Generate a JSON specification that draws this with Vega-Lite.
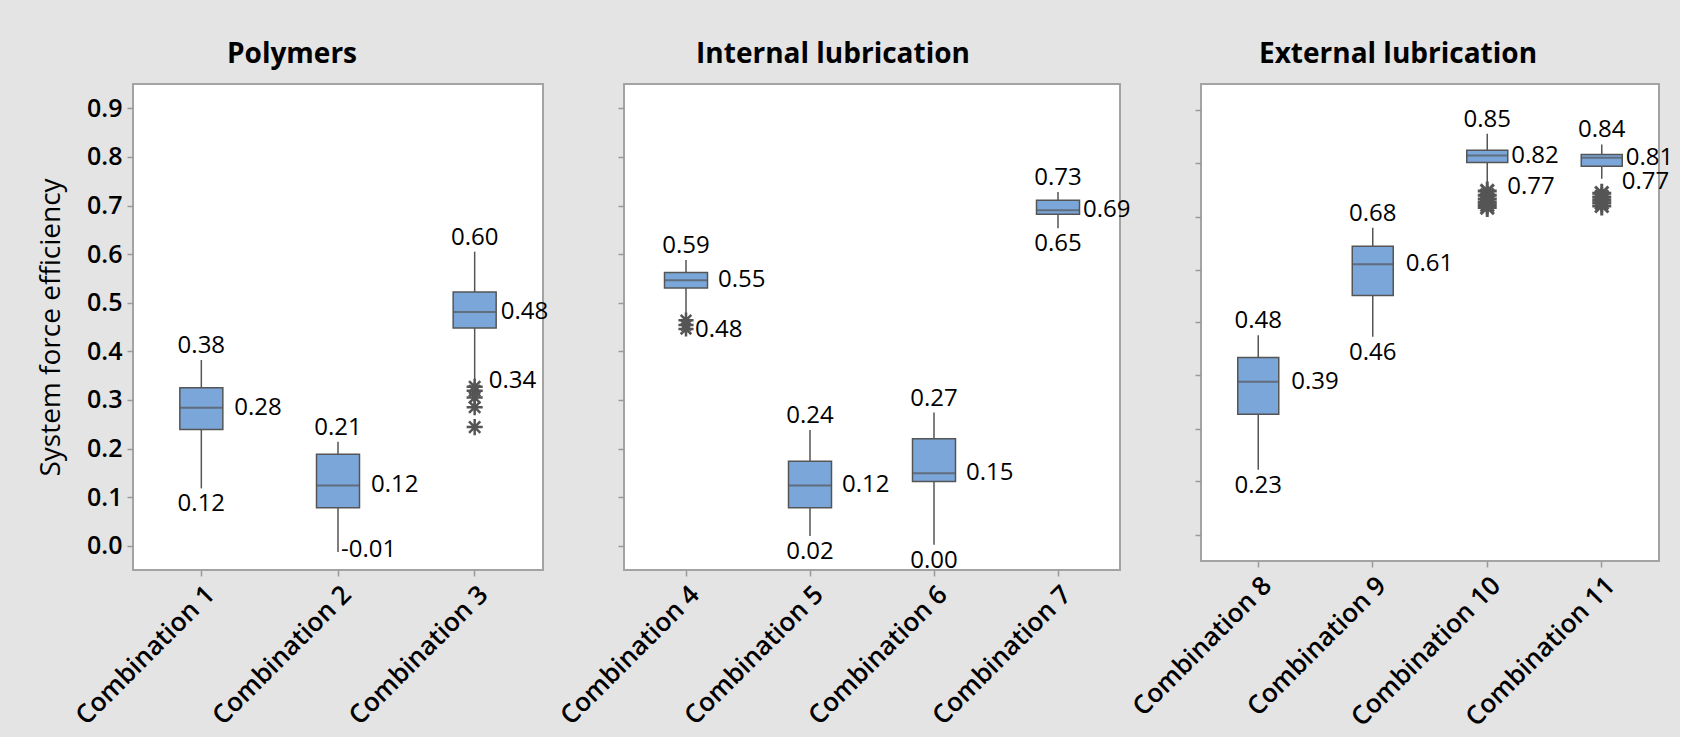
{
  "$schema": "https://vega.github.io/schema/vega-lite/v6.json",
  "background": "#e4e4e4",
  "padding": {"left": 36, "top": 39, "right": 5, "bottom": 5},
  "spacing": 81,
  "bounds": "flush",
  "datasets": {
    "boxes": [
      {"group": "Polymers", "combo": "Combination 1", "lo": 0.118, "q1": 0.239, "med": 0.284, "q3": 0.325, "hi": 0.382, "loL": "0.12", "medL": "0.28", "hiL": "0.38"},
      {"group": "Polymers", "combo": "Combination 2", "lo": -0.013, "q1": 0.078, "med": 0.124, "q3": 0.188, "hi": 0.214, "loL": "-0.01", "medL": "0.12", "hiL": "0.21"},
      {"group": "Polymers", "combo": "Combination 3", "lo": 0.339, "q1": 0.448, "med": 0.481, "q3": 0.522, "hi": 0.605, "loL": "0.34", "medL": "0.48", "hiL": "0.60"},
      {"group": "Internal lubrication", "combo": "Combination 4", "lo": 0.476, "q1": 0.53, "med": 0.546, "q3": 0.562, "hi": 0.588, "loL": "0.48", "medL": "0.55", "hiL": "0.59"},
      {"group": "Internal lubrication", "combo": "Combination 5", "lo": 0.02, "q1": 0.078, "med": 0.124, "q3": 0.174, "hi": 0.238, "loL": "0.02", "medL": "0.12", "hiL": "0.24"},
      {"group": "Internal lubrication", "combo": "Combination 6", "lo": 0.002, "q1": 0.132, "med": 0.149, "q3": 0.22, "hi": 0.274, "loL": "0.00", "medL": "0.15", "hiL": "0.27"},
      {"group": "Internal lubrication", "combo": "Combination 7", "lo": 0.653, "q1": 0.682, "med": 0.69, "q3": 0.711, "hi": 0.728, "loL": "0.65", "medL": "0.69", "hiL": "0.73"},
      {"group": "External lubrication", "combo": "Combination 8", "lo": 0.222, "q1": 0.327, "med": 0.388, "q3": 0.434, "hi": 0.476, "loL": "0.23", "medL": "0.39", "hiL": "0.48"},
      {"group": "External lubrication", "combo": "Combination 9", "lo": 0.473, "q1": 0.551, "med": 0.61, "q3": 0.644, "hi": 0.679, "loL": "0.46", "medL": "0.61", "hiL": "0.68"},
      {"group": "External lubrication", "combo": "Combination 10", "lo": 0.762, "q1": 0.802, "med": 0.815, "q3": 0.825, "hi": 0.856, "loL": "0.77", "medL": "0.82", "hiL": "0.85"},
      {"group": "External lubrication", "combo": "Combination 11", "lo": 0.771, "q1": 0.795, "med": 0.811, "q3": 0.817, "hi": 0.836, "loL": "0.77", "medL": "0.81", "hiL": "0.84"}
    ],
    "outliers": [
      {"group": "Polymers", "combo": "Combination 3", "value": 0.327},
      {"group": "Polymers", "combo": "Combination 3", "value": 0.319},
      {"group": "Polymers", "combo": "Combination 3", "value": 0.305},
      {"group": "Polymers", "combo": "Combination 3", "value": 0.285},
      {"group": "Polymers", "combo": "Combination 3", "value": 0.244},
      {"group": "Internal lubrication", "combo": "Combination 4", "value": 0.464},
      {"group": "Internal lubrication", "combo": "Combination 4", "value": 0.454},
      {"group": "Internal lubrication", "combo": "Combination 4", "value": 0.446},
      {"group": "External lubrication", "combo": "Combination 10", "value": 0.748},
      {"group": "External lubrication", "combo": "Combination 10", "value": 0.74},
      {"group": "External lubrication", "combo": "Combination 10", "value": 0.733},
      {"group": "External lubrication", "combo": "Combination 10", "value": 0.727},
      {"group": "External lubrication", "combo": "Combination 10", "value": 0.722},
      {"group": "External lubrication", "combo": "Combination 10", "value": 0.717},
      {"group": "External lubrication", "combo": "Combination 11", "value": 0.744},
      {"group": "External lubrication", "combo": "Combination 11", "value": 0.737},
      {"group": "External lubrication", "combo": "Combination 11", "value": 0.731},
      {"group": "External lubrication", "combo": "Combination 11", "value": 0.726},
      {"group": "External lubrication", "combo": "Combination 11", "value": 0.72}
    ]
  },
  "hconcat": [
    {
      "width": 410, "height": 486,
      "title": {"text": "Polymers", "dx": -46},
      "data": {"name": "boxes"},
      "transform": [{"filter": "datum.group === 'Polymers'"}],
      "encoding": {
        "x": {"field": "combo", "type": "nominal", "title": null,
              "scale": {"domain": ["Combination 1", "Combination 2", "Combination 3"], "paddingInner": 0, "paddingOuter": 0},
              "axis": {"labelAngle": -45}}
      },
      "layer": [
        {"mark": {"type": "rule", "color": "#555555", "strokeWidth": 1.5},
         "encoding": {"y": {"field": "lo", "type": "quantitative", "title": "System force efficiency", "scale": {"domain": [-0.05, 0.95], "nice": false, "zero": false},
                             "axis": {"values": [0, 0.1, 0.2, 0.3, 0.4, 0.5, 0.6, 0.7, 0.8, 0.9], "format": ".1f", "titlePadding": 21}},
                      "y2": {"field": "hi"}}},
        {"mark": {"type": "bar", "size": 43, "fill": "#7ba6da", "stroke": "#555555", "strokeWidth": 1.5},
         "encoding": {"y": {"field": "q1", "type": "quantitative", "title": "System force efficiency"}, "y2": {"field": "q3"}}},
        {"mark": {"type": "tick", "size": 43, "thickness": 2, "color": "#555555"},
         "encoding": {"y": {"field": "med", "type": "quantitative", "title": "System force efficiency"}}},
        {"data": {"name": "outliers"}, "transform": [{"filter": "datum.group === 'Polymers'"}],
         "mark": {"type": "point", "shape": "M0,-1L0,1M-1,0L1,0M-0.7,-0.7L0.7,0.7M-0.7,0.7L0.7,-0.7", "filled": false, "stroke": "#555555", "strokeWidth": 2.5, "size": 260, "opacity": 1},
         "encoding": {"y": {"field": "value", "type": "quantitative", "title": "System force efficiency"}}},
        {"mark": {"type": "text", "fontSize": 24, "baseline": "alphabetic", "dy": -7, "color": "#000"},
         "encoding": {"y": {"field": "hi", "type": "quantitative", "title": "System force efficiency"}, "text": {"field": "hiL"}}},
        {"transform": [{"filter": {"field": "combo", "oneOf": ["Combination 1", "Combination 2"]}}],
         "mark": {"type": "text", "fontSize": 24, "baseline": "middle", "align": "left", "dx": 33, "color": "#000"},
         "encoding": {"y": {"field": "med", "type": "quantitative", "title": "System force efficiency"}, "text": {"field": "medL"}}},
        {"transform": [{"filter": {"field": "combo", "oneOf": ["Combination 3"]}}],
         "mark": {"type": "text", "fontSize": 24, "baseline": "middle", "align": "left", "dx": 26, "color": "#000"},
         "encoding": {"y": {"field": "med", "type": "quantitative", "title": "System force efficiency"}, "text": {"field": "medL"}}},
        {"transform": [{"filter": {"field": "combo", "oneOf": ["Combination 1"]}}],
         "mark": {"type": "text", "fontSize": 24, "baseline": "top", "dy": 4, "color": "#000"},
         "encoding": {"y": {"field": "lo", "type": "quantitative", "title": "System force efficiency"}, "text": {"field": "loL"}}},
        {"transform": [{"filter": {"field": "combo", "oneOf": ["Combination 2"]}}],
         "mark": {"type": "text", "fontSize": 24, "baseline": "middle", "align": "left", "dx": 3, "dy": -2, "color": "#000"},
         "encoding": {"y": {"field": "lo", "type": "quantitative", "title": "System force efficiency"}, "text": {"field": "loL"}}},
        {"transform": [{"filter": {"field": "combo", "oneOf": ["Combination 3"]}}],
         "mark": {"type": "text", "fontSize": 24, "baseline": "middle", "align": "left", "dx": 14, "color": "#000"},
         "encoding": {"y": {"field": "lo", "type": "quantitative", "title": "System force efficiency"}, "text": {"field": "loL"}}}
      ]
    },
    {
      "width": 496, "height": 486,
      "title": {"text": "Internal lubrication", "dx": -39},
      "data": {"name": "boxes"},
      "transform": [{"filter": "datum.group === 'Internal lubrication'"}],
      "encoding": {
        "x": {"field": "combo", "type": "nominal", "title": null,
              "scale": {"domain": ["Combination 4", "Combination 5", "Combination 6", "Combination 7"], "paddingInner": 0, "paddingOuter": 0},
              "axis": {"labelAngle": -45}}
      },
      "layer": [
        {"mark": {"type": "rule", "color": "#555555", "strokeWidth": 1.5},
         "encoding": {"y": {"field": "lo", "type": "quantitative", "title": null, "scale": {"domain": [-0.05, 0.95], "nice": false, "zero": false},
                             "axis": {"values": [0, 0.1, 0.2, 0.3, 0.4, 0.5, 0.6, 0.7, 0.8, 0.9], "labels": false}},
                      "y2": {"field": "hi"}}},
        {"mark": {"type": "bar", "size": 43, "fill": "#7ba6da", "stroke": "#555555", "strokeWidth": 1.5},
         "encoding": {"y": {"field": "q1", "type": "quantitative", "title": null}, "y2": {"field": "q3"}}},
        {"mark": {"type": "tick", "size": 43, "thickness": 2, "color": "#555555"},
         "encoding": {"y": {"field": "med", "type": "quantitative", "title": null}}},
        {"data": {"name": "outliers"}, "transform": [{"filter": "datum.group === 'Internal lubrication'"}],
         "mark": {"type": "point", "shape": "M0,-1L0,1M-1,0L1,0M-0.7,-0.7L0.7,0.7M-0.7,0.7L0.7,-0.7", "filled": false, "stroke": "#555555", "strokeWidth": 2.5, "size": 230, "opacity": 1},
         "encoding": {"y": {"field": "value", "type": "quantitative", "title": null}}},
        {"mark": {"type": "text", "fontSize": 24, "baseline": "alphabetic", "dy": -7, "color": "#000"},
         "encoding": {"y": {"field": "hi", "type": "quantitative", "title": null}, "text": {"field": "hiL"}}},
        {"transform": [{"filter": {"field": "combo", "oneOf": ["Combination 4", "Combination 5", "Combination 6"]}}],
         "mark": {"type": "text", "fontSize": 24, "baseline": "middle", "align": "left", "dx": 32, "color": "#000"},
         "encoding": {"y": {"field": "med", "type": "quantitative", "title": null}, "text": {"field": "medL"}}},
        {"transform": [{"filter": {"field": "combo", "oneOf": ["Combination 7"]}}],
         "mark": {"type": "text", "fontSize": 24, "baseline": "middle", "align": "left", "dx": 25, "color": "#000"},
         "encoding": {"y": {"field": "med", "type": "quantitative", "title": null}, "text": {"field": "medL"}}},
        {"transform": [{"filter": {"field": "combo", "oneOf": ["Combination 5", "Combination 6", "Combination 7"]}}],
         "mark": {"type": "text", "fontSize": 24, "baseline": "top", "dy": 4, "color": "#000"},
         "encoding": {"y": {"field": "lo", "type": "quantitative", "title": null}, "text": {"field": "loL"}}},
        {"transform": [{"filter": {"field": "combo", "oneOf": ["Combination 4"]}}],
         "mark": {"type": "text", "fontSize": 24, "baseline": "middle", "align": "left", "dx": 9, "dy": 16, "color": "#000"},
         "encoding": {"y": {"field": "lo", "type": "quantitative", "title": null}, "text": {"field": "loL"}}}
      ]
    },
    {
      "width": 458, "height": 477,
      "title": {"text": "External lubrication", "dx": -32},
      "data": {"name": "boxes"},
      "transform": [{"filter": "datum.group === 'External lubrication'"}],
      "encoding": {
        "x": {"field": "combo", "type": "nominal", "title": null,
              "scale": {"domain": ["Combination 8", "Combination 9", "Combination 10", "Combination 11"], "paddingInner": 0, "paddingOuter": 0},
              "axis": {"labelAngle": -45}}
      },
      "layer": [
        {"mark": {"type": "rule", "color": "#555555", "strokeWidth": 1.5},
         "encoding": {"y": {"field": "lo", "type": "quantitative", "title": null, "scale": {"domain": [0.05, 0.95], "nice": false, "zero": false},
                             "axis": {"values": [0.1, 0.2, 0.3, 0.4, 0.5, 0.6, 0.7, 0.8, 0.9], "labels": false}},
                      "y2": {"field": "hi"}}},
        {"mark": {"type": "bar", "size": 41, "fill": "#7ba6da", "stroke": "#555555", "strokeWidth": 1.5},
         "encoding": {"y": {"field": "q1", "type": "quantitative", "title": null}, "y2": {"field": "q3"}}},
        {"mark": {"type": "tick", "size": 41, "thickness": 2, "color": "#555555"},
         "encoding": {"y": {"field": "med", "type": "quantitative", "title": null}}},
        {"data": {"name": "outliers"}, "transform": [{"filter": "datum.group === 'External lubrication'"}],
         "mark": {"type": "point", "shape": "M0,-1L0,1M-1,0L1,0M-0.7,-0.7L0.7,0.7M-0.7,0.7L0.7,-0.7", "filled": false, "stroke": "#555555", "strokeWidth": 3, "size": 360, "opacity": 1},
         "encoding": {"y": {"field": "value", "type": "quantitative", "title": null}}},
        {"mark": {"type": "text", "fontSize": 24, "baseline": "alphabetic", "dy": -7, "color": "#000"},
         "encoding": {"y": {"field": "hi", "type": "quantitative", "title": null}, "text": {"field": "hiL"}}},
        {"transform": [{"filter": {"field": "combo", "oneOf": ["Combination 8", "Combination 9"]}}],
         "mark": {"type": "text", "fontSize": 24, "baseline": "middle", "align": "left", "dx": 33, "color": "#000"},
         "encoding": {"y": {"field": "med", "type": "quantitative", "title": null}, "text": {"field": "medL"}}},
        {"transform": [{"filter": {"field": "combo", "oneOf": ["Combination 10", "Combination 11"]}}],
         "mark": {"type": "text", "fontSize": 24, "baseline": "middle", "align": "left", "dx": 24, "color": "#000"},
         "encoding": {"y": {"field": "med", "type": "quantitative", "title": null}, "text": {"field": "medL"}}},
        {"transform": [{"filter": {"field": "combo", "oneOf": ["Combination 8", "Combination 9"]}}],
         "mark": {"type": "text", "fontSize": 24, "baseline": "top", "dy": 4, "color": "#000"},
         "encoding": {"y": {"field": "lo", "type": "quantitative", "title": null}, "text": {"field": "loL"}}},
        {"transform": [{"filter": {"field": "combo", "oneOf": ["Combination 10", "Combination 11"]}}],
         "mark": {"type": "text", "fontSize": 24, "baseline": "middle", "align": "left", "dx": 20, "dy": 3, "color": "#000"},
         "encoding": {"y": {"field": "lo", "type": "quantitative", "title": null}, "text": {"field": "loL"}}}
      ]
    }
  ],
  "config": {
    "font": "Open Sans",
    "view": {"stroke": "#a3a3a3", "strokeWidth": 2, "fill": "white"},
    "title": {"fontSize": 28, "fontWeight": "bold", "color": "#000", "baseline": "alphabetic", "offset": 15.5, "font": "Open Sans", "anchor": "middle"},
    "text": {"font": "Open Sans"},
    "axis": {"domain": false, "grid": false, "tickColor": "#9a9a9a", "tickSize": 6, "tickWidth": 1.5,
             "labelColor": "#000", "labelFont": "Open Sans", "labelFontSize": 25, "labelFontWeight": 600, "labelPadding": 5, "labelLimit": 400,
             "titleColor": "#000", "titleFont": "Open Sans", "titleFontSize": 28, "titleFontWeight": "normal"},
    "axisX": {"labelFontSize": 26}
  }
}
